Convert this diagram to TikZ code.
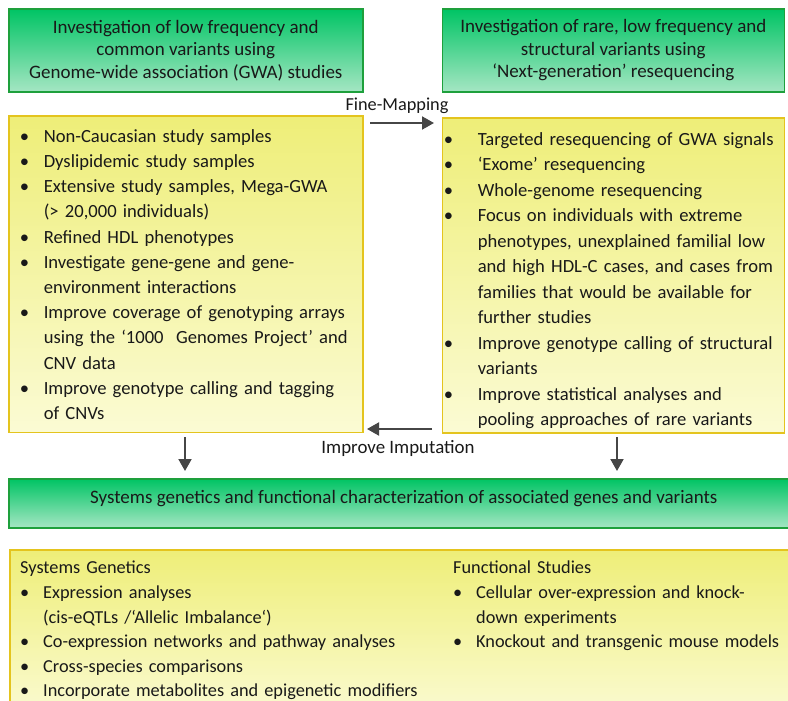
\documentclass[tikz,border=0pt]{standalone}
\usepackage{fontspec}
\setmainfont{Carlito}
\usetikzlibrary{arrows.meta}
\definecolor{greentop}{RGB}{0,196,100}
\definecolor{greenmid}{RGB}{40,208,125}
\definecolor{greenbot}{RGB}{165,230,195}
\definecolor{greenline}{RGB}{30,160,60}
\definecolor{yellowtop}{RGB}{238,238,120}
\definecolor{yellowbot}{RGB}{251,251,212}
\definecolor{yellowline}{RGB}{228,196,30}
\definecolor{arrowgray}{RGB}{70,70,70}
\definecolor{inkgray}{RGB}{25,25,25}
% bullet item, optional width of the bullet column
\newcommand{\bul}[1][24pt]{\par\hangindent=#1\hangafter=1\noindent\hbox to #1{\textbullet\hfil}\ignorespaces}
\tikzset{
  headbox/.style={draw=greenline, line width=1.6pt, top color=greentop, middle color=greenmid,
    bottom color=greenbot, anchor=north west, align=center, text=inkgray},
  listbox/.style={draw=yellowline, line width=1.6pt, top color=yellowtop, bottom color=yellowbot,
    anchor=north west, align=left, text=inkgray, inner ysep=0pt},
  arr/.style={draw=arrowgray, line width=2pt, -{Triangle[length=12pt,width=13pt]}},
  lbl/.style={text=inkgray, inner sep=0pt},
}
\begin{document}
\begin{tikzpicture}[x=1pt, y=-1pt]
  \useasboundingbox (0,0) rectangle (788,701);
  % headers
  \node[headbox, minimum width=354pt, minimum height=83pt, inner sep=0pt,
    font=\fontsize{19}{22.5}\selectfont] (gwahead) at (8,8)
    {Investigation of low frequency and\\ common variants using\\ Genome-wide association (GWA) studies};
  \node[headbox, minimum width=342pt, minimum height=83pt, inner sep=0pt,
    font=\fontsize{19}{22.5}\selectfont] (seqhead) at (441.5,8)
    {Investigation of rare, low frequency and\\ structural variants using\\ ‘Next-generation’ resequencing};
  % lists
  \node[listbox, minimum height=316pt, inner xsep=11pt, text width=332pt,
    font=\fontsize{18.6}{25.2}\selectfont] (gwalist) at (8,115.5) {%
    \bul Non-Caucasian study samples
    \bul Dyslipidemic study samples
    \bul Extensive study samples, Mega-GWA\newline (> 20,000 individuals)
    \bul Refined HDL phenotypes
    \bul Investigate gene-gene and gene-\newline environment interactions
    \bul Improve coverage of genotyping arrays\newline using the ‘1000\ \ Genomes Project’ and\newline CNV data
    \bul Improve genotype calling and tagging\newline of CNVs\par\vspace*{12pt}};
  \node[listbox, minimum height=315pt, inner xsep=1.5pt, text width=339pt,
    font=\fontsize{18.6}{25.5}\selectfont] (seqlist) at (441.5,117) {%
    \bul[34pt] Targeted resequencing of GWA signals
    \bul[34pt] ‘Exome’ resequencing
    \bul[34pt] Whole-genome resequencing
    \bul[34pt] Focus on individuals with extreme\newline phenotypes, unexplained familial low\newline and high HDL-C cases, and cases from\newline families that would be available for\newline further studies
    \bul[34pt] Improve genotype calling of structural\newline variants
    \bul[34pt] Improve statistical analyses and\newline pooling approaches of rare variants\par\vspace*{2pt}};
  % systems genetics
  \node[headbox, minimum width=790pt, minimum height=49pt, inner sep=0pt,
    font=\fontsize{19}{22}\selectfont] (syshead) at (8,478)
    {\raisebox{5pt}[\height][\depth]{Systems genetics and functional characterization of associated genes and variants}};
  \node[listbox, minimum width=790pt, minimum height=170pt] (sysbox) at (9,549) {};
  \node[lbl, anchor=north west, text width=420pt, font=\fontsize{18.3}{24.6}\selectfont]
    (sysgen) at (20,561) {%
    Systems Genetics
    \bul[23pt] Expression analyses\newline (cis-eQTLs /‘Allelic Imbalance‘)
    \bul[23pt] Co-expression networks and pathway analyses
    \bul[23pt] Cross-species comparisons
    \bul[23pt] Incorporate metabolites and epigenetic modifiers\par};
  \node[lbl, anchor=north west, text width=334pt, font=\fontsize{18.3}{24.6}\selectfont]
    (funcstud) at (453,561) {%
    Functional Studies
    \bul[23pt] Cellular over-expression and knock-\newline down experiments
    \bul[23pt] Knockout and transgenic mouse models\par};
  % connectors
  \coordinate (fmA) at (370,123);
  \coordinate (fmB) at (434,123);
  \coordinate (impA) at (432,429);
  \coordinate (impB) at (367,429);
  \draw[arr] (fmA) -- (fmB);
  \draw[arr] (impA) -- (impB);
  \node[lbl, font=\fontsize{18.3}{20}\selectfont] (fmlbl) at (397,106) {Fine-Mapping};
  \node[lbl, font=\fontsize{18.9}{20}\selectfont] (implbl) at (398,448) {Improve Imputation};
  \draw[arr] (185,437) -- (185,471);
  \draw[arr] (617,437) -- (617,471);
\end{tikzpicture}
\end{document}
